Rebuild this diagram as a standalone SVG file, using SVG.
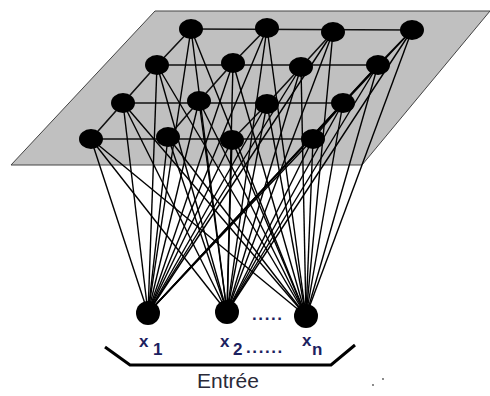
<svg xmlns="http://www.w3.org/2000/svg" width="490" height="396" viewBox="0 0 490 396">
<style>
.plane{fill:#c0c0c0;stroke:#444;stroke-width:1}
.grid line{stroke:#111;stroke-width:1.6}
.edges line{stroke:#000;stroke-width:1.4}
.n{fill:#000}
.lbl{font-family:"Liberation Sans",Arial,sans-serif;font-weight:bold;font-size:17px;fill:#1c2160}
.dots{font-family:"Liberation Sans",Arial,sans-serif;font-weight:bold;font-size:17px;fill:#1c2160;letter-spacing:1.6px}
.ent{font-family:"Liberation Sans",Arial,sans-serif;font-size:21px;fill:#2a2a38}
</style>
<rect width="490" height="396" fill="#fff"/>
<polygon class="plane" points="155,11 490,11 362,165 11,165"/>
<g id="grid-links" class="grid">
<line x1="191" y1="29" x2="412" y2="30"/>
<line x1="157" y1="65" x2="378" y2="65"/>
<line x1="123" y1="103" x2="343" y2="103"/>
<line x1="91" y1="139" x2="313" y2="139"/>
<polyline points="191,29 157,65 123,103 91,139" fill="none" stroke="#111" stroke-width="1.6"/>
<polyline points="267,28 233,63 199,101 168,137" fill="none" stroke="#111" stroke-width="1.6"/>
<polyline points="333,32 301,67 267,104 232,140" fill="none" stroke="#111" stroke-width="1.6"/>
<polyline points="412,30 378,65 343,103 313,139" fill="none" stroke="#111" stroke-width="1.6"/>
</g>
<g id="connectors" class="edges">
<line x1="191" y1="29" x2="148" y2="313"/><line x1="191" y1="29" x2="227" y2="312"/><line x1="191" y1="29" x2="306" y2="316"/>
<line x1="267" y1="28" x2="148" y2="313"/><line x1="267" y1="28" x2="227" y2="312"/><line x1="267" y1="28" x2="306" y2="316"/>
<line x1="333" y1="32" x2="148" y2="313"/><line x1="333" y1="32" x2="227" y2="312"/><line x1="333" y1="32" x2="306" y2="316"/>
<line x1="412" y1="30" x2="148" y2="313"/><line x1="412" y1="30" x2="227" y2="312"/><line x1="412" y1="30" x2="306" y2="316"/>
<line x1="157" y1="65" x2="148" y2="313"/><line x1="157" y1="65" x2="227" y2="312"/><line x1="157" y1="65" x2="306" y2="316"/>
<line x1="233" y1="63" x2="148" y2="313"/><line x1="233" y1="63" x2="227" y2="312"/><line x1="233" y1="63" x2="306" y2="316"/>
<line x1="301" y1="67" x2="148" y2="313"/><line x1="301" y1="67" x2="227" y2="312"/><line x1="301" y1="67" x2="306" y2="316"/>
<line x1="378" y1="65" x2="148" y2="313"/><line x1="378" y1="65" x2="227" y2="312"/><line x1="378" y1="65" x2="306" y2="316"/>
<line x1="123" y1="103" x2="148" y2="313"/><line x1="123" y1="103" x2="227" y2="312"/><line x1="123" y1="103" x2="306" y2="316"/>
<line x1="199" y1="101" x2="148" y2="313"/><line x1="199" y1="101" x2="227" y2="312"/><line x1="199" y1="101" x2="306" y2="316"/>
<line x1="267" y1="104" x2="148" y2="313"/><line x1="267" y1="104" x2="227" y2="312"/><line x1="267" y1="104" x2="306" y2="316"/>
<line x1="343" y1="103" x2="148" y2="313"/><line x1="343" y1="103" x2="227" y2="312"/><line x1="343" y1="103" x2="306" y2="316"/>
<line x1="91" y1="139" x2="148" y2="313"/><line x1="91" y1="139" x2="227" y2="312"/><line x1="91" y1="139" x2="306" y2="316"/>
<line x1="168" y1="137" x2="148" y2="313"/><line x1="168" y1="137" x2="227" y2="312"/><line x1="168" y1="137" x2="306" y2="316"/>
<line x1="232" y1="140" x2="148" y2="313"/><line x1="232" y1="140" x2="227" y2="312"/><line x1="232" y1="140" x2="306" y2="316"/>
<line x1="313" y1="139" x2="148" y2="313"/><line x1="313" y1="139" x2="227" y2="312"/><line x1="313" y1="139" x2="306" y2="316"/>
</g>
<g id="n11"><ellipse class="n" cx="191" cy="29" rx="12" ry="10"/></g>
<g id="n12"><ellipse class="n" cx="267" cy="28" rx="12" ry="10"/></g>
<g id="n13"><ellipse class="n" cx="333" cy="32" rx="12" ry="10"/></g>
<g id="n14"><ellipse class="n" cx="412" cy="30" rx="12" ry="10"/></g>
<g id="n21"><ellipse class="n" cx="157" cy="65" rx="12" ry="10"/></g>
<g id="n22"><ellipse class="n" cx="233" cy="63" rx="12" ry="10"/></g>
<g id="n23"><ellipse class="n" cx="301" cy="67" rx="12" ry="10"/></g>
<g id="n24"><ellipse class="n" cx="378" cy="65" rx="12" ry="10"/></g>
<g id="n31"><ellipse class="n" cx="123" cy="103" rx="12" ry="10"/></g>
<g id="n32"><ellipse class="n" cx="199" cy="101" rx="12" ry="10"/></g>
<g id="n33"><ellipse class="n" cx="267" cy="104" rx="12" ry="10"/></g>
<g id="n34"><ellipse class="n" cx="343" cy="103" rx="12" ry="10"/></g>
<g id="n41"><ellipse class="n" cx="91" cy="139" rx="12" ry="10"/></g>
<g id="n42"><ellipse class="n" cx="168" cy="137" rx="12" ry="10"/></g>
<g id="n43"><ellipse class="n" cx="232" cy="140" rx="12" ry="10"/></g>
<g id="n44"><ellipse class="n" cx="313" cy="139" rx="12" ry="10"/></g>
<g id="x1"><circle class="n" cx="148" cy="313" r="12"/>
<text class="lbl" x="139" y="347">x</text><text class="lbl" x="153" y="355">1</text></g>
<g id="x2"><circle class="n" cx="227" cy="312" r="12"/>
<text class="lbl" x="220" y="347">x</text><text class="lbl" x="233" y="355">2</text>
<text class="dots" x="246" y="353">......</text></g>
<g id="xn"><circle class="n" cx="306" cy="316" r="12"/>
<text class="lbl" x="302" y="346">x</text><text class="lbl" x="312" y="355">n</text></g>
<text class="dots" x="252" y="320">.....</text>
<g id="brace"><polyline points="105,347 130,365 331,365 355,345" fill="none" stroke="#000" stroke-width="3"/>
<text class="ent" x="228" y="388" text-anchor="middle">Entrée</text></g>
<circle cx="373" cy="385" r="0.9" fill="#555"/><circle cx="383" cy="379" r="0.9" fill="#555"/>
</svg>
